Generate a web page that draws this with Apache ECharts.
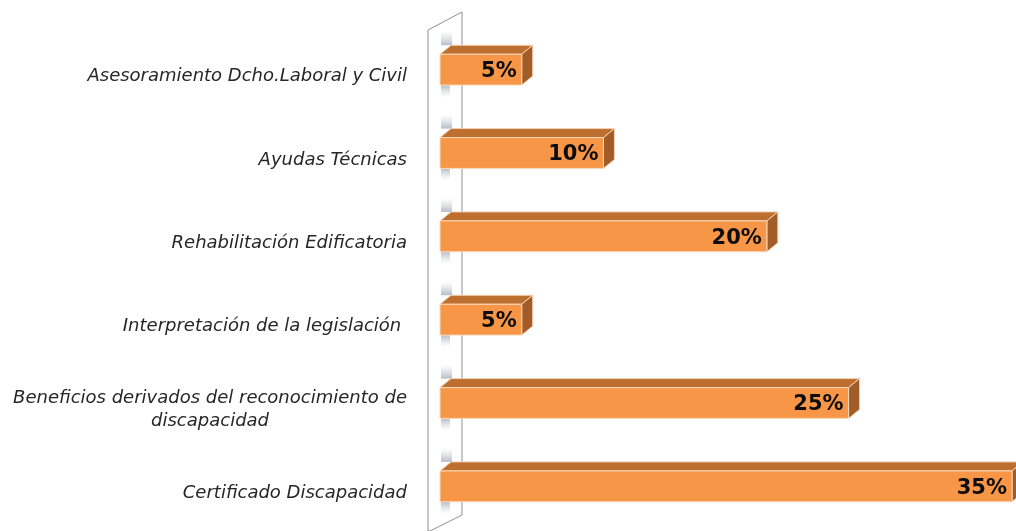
<!DOCTYPE html>
<html>
<head>
<meta charset="utf-8">
<script src="https://cdn.jsdelivr.net/npm/echarts@6/dist/echarts.min.js"></script>
<style>
  html, body { margin: 0; padding: 0; background: #fff; }
  #chart { width: 1016px; height: 531px; }
</style>
</head>
<body>
<div id="chart"></div>
<script>
// top to bottom
var categories = [
  "Asesoramiento Dcho.Laboral y Civil",
  "Ayudas Técnicas",
  "Rehabilitación Edificatoria",
  "Interpretación de la legislación ",
  "Beneficios derivados del reconocimiento de\ndiscapacidad",
  "Certificado Discapacidad",
];
var values = [5, 10, 20, 5, 25, 35];

var chart = echarts.init(document.getElementById("chart"));

var data = [];
for (var i = 0; i < values.length; i++) {
  data.push([values[i], i]);
}

// 3d offset of the boxes
var DX = 11;
var DY = -9;

function renderBox(params, api) {
  var v = api.value(0);
  var c = api.value(1);
  var p0 = api.coord([0, c]);
  var p1 = api.coord([v, c]);
  var h = api.size([0, 1])[1] * 0.37;
  var x0 = p0[0], x1 = p1[0];
  var yT = p0[1] - h / 2, yB = p0[1] + h / 2;

  return {
    type: "group",
    children: [
      {
        // shadow strips on the wall
        type: "rect",
        shape: { x: x0 + 1, y: yT + DY - 14, width: DX, height: 14 },
        style: {
          fill: new echarts.graphic.LinearGradient(0, 0, 0, 1, [
            { offset: 0, color: "rgba(190,198,210,0)" },
            { offset: 1, color: "rgba(150,160,175,0.7)" },
          ]),
        },
      },
      {
        type: "rect",
        shape: { x: x0 + 1, y: yB, width: DX - 2, height: 12 },
        style: {
          fill: new echarts.graphic.LinearGradient(0, 0, 0, 1, [
            { offset: 0, color: "rgba(150,160,175,0.7)" },
            { offset: 1, color: "rgba(190,198,210,0)" },
          ]),
        },
      },
      {
        // top face
        type: "polygon",
        shape: {
          points: [
            [x0, yT],
            [x0 + DX, yT + DY],
            [x1 + DX, yT + DY],
            [x1, yT],
          ],
        },
        style: { fill: "#bd6f2f", stroke: "#f5d2b4", lineWidth: 1 },
      },
      {
        // side face
        type: "polygon",
        shape: {
          points: [
            [x1, yT],
            [x1 + DX, yT + DY],
            [x1 + DX, yB + DY],
            [x1, yB],
          ],
        },
        style: { fill: "#a15c27", stroke: "#f5d2b4", lineWidth: 1 },
      },
      {
        // front face
        type: "rect",
        shape: { x: x0, y: yT, width: x1 - x0, height: yB - yT },
        style: { fill: "#f79646", stroke: "#fbd9bd", lineWidth: 1 },
      },
      {
        type: "text",
        style: {
          text: v + "%",
          x: x1 - 5,
          y: p0[1] + 2,
          align: "right",
          verticalAlign: "middle",
          fill: "#0d0d0d",
          font: "bold 21px 'DejaVu Sans'",
        },
      },
    ],
  };
}

var labelFont = {
  color: "#262626",
  fontFamily: "DejaVu Sans",
  fontStyle: "italic",
  fontSize: 18,
  lineHeight: 23,
};

var option = {
  animation: false,
  grid: { left: 440, right: 4, top: 28, bottom: 3 },
  xAxis: {
    type: "value",
    min: 0,
    max: 35,
    show: false,
  },
  yAxis: {
    type: "category",
    data: categories,
    inverse: true,
    axisLine: { show: false },
    axisTick: { show: false },
    splitLine: { show: false },
    axisLabel: Object.assign({
      margin: 33,
      padding: [14, 0, 0, 0],
      formatter: function (val) {
        return val
          .split("\n")
          .map(function (s) {
            return "{c|" + s + "}";
          })
          .join("\n");
      },
      rich: {
        c: Object.assign({ align: "center" }, labelFont),
      },
    }, labelFont),
  },
  graphic: [
    {
      // side wall
      type: "polygon",
      z: 0,
      shape: {
        points: [
          [428, 30],
          [462, 12],
          [462, 515],
          [430, 531],
          [428, 531],
        ],
      },
      style: { fill: "#fff", stroke: "#8f8f8f", lineWidth: 1 },
    },
  ],
  series: [
    {
      type: "custom",
      z: 10,
      renderItem: renderBox,
      encode: { x: 0, y: 1 },
      data: data,
    },
  ],
};

chart.setOption(option);
</script>
</body>
</html>
